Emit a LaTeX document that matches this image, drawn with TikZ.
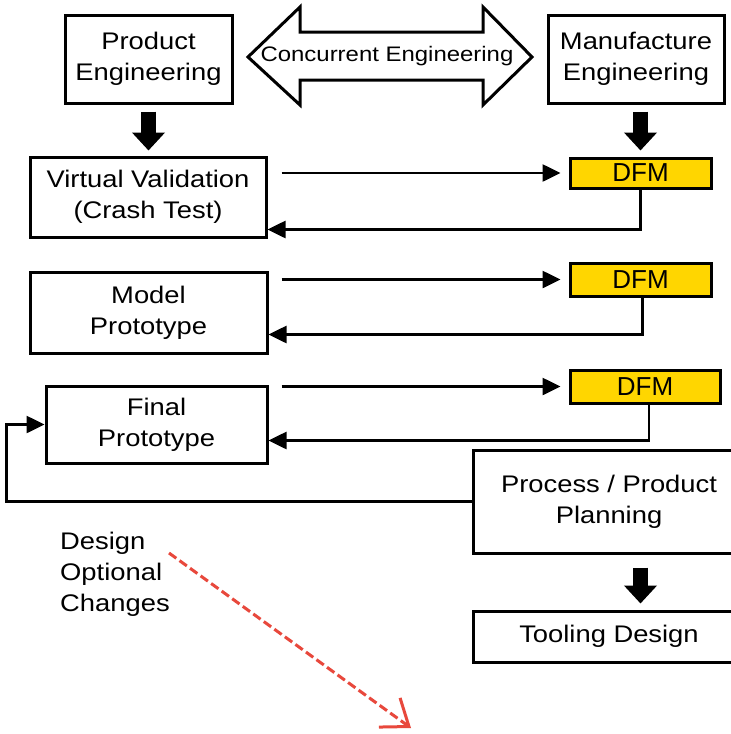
\documentclass[tikz,border=0pt]{standalone}
\usepackage{fontspec}
\setmainfont[FakeStretch=1.14]{Liberation Sans}
\newfontfamily\plainfont{Liberation Sans}
\usetikzlibrary{arrows.meta}
\definecolor{dfmyellow}{RGB}{255,214,0}
\definecolor{dashred}{RGB}{232,72,60}
\begin{document}
\begin{tikzpicture}[x=1pt,y=-1pt,
  box/.style={draw, line width=3pt, inner sep=0pt, align=center,
    font=\fontsize{24}{31}\selectfont},
  dfm/.style={box, fill=dfmyellow, font=\plainfont\fontsize{26}{28}\selectfont},
  arr/.style={line width=2.6pt, -{Triangle[length=18pt,width=17pt]}},
  fat/.style={line width=15pt, -{Triangle[length=18pt,width=32pt]}},
  lbl/.style={inner sep=0pt, align=left, font=\fontsize{24}{31}\selectfont}]
\useasboundingbox (0,0) rectangle (731,734);
\clip (0,0) rectangle (731,734);
\fill[white] (0,0) rectangle (731,734);

% top boxes
\node[box, minimum width=167pt, minimum height=88pt] (pe) at (148.5,59) {Product\\Engineering};
\node[box, minimum width=176pt, minimum height=88pt] (me) at (636,59) {Manufacture\\Engineering};

% concurrent engineering double arrow
\draw[line width=3pt, line join=miter] (248,57) -- (300,7) -- (300,32) -- (483,32) -- (483,7)
  -- (532,57) -- (483,105) -- (483,80) -- (300,80) -- (300,105) -- cycle;
\node[inner sep=0pt, font=\fontsize{21}{26}\selectfont] (ce) at (387,56) {Concurrent Engineering};

% left column
\node[box, minimum width=236pt, minimum height=80pt] (vv) at (148,197) {Virtual Validation\\(Crash Test)};
\node[box, minimum width=237pt, minimum height=81pt] (mp) at (148.5,312.5) {Model\\Prototype};
\node[box, minimum width=221pt, minimum height=77pt] (fp) at (156.5,424.5) {Final\\Prototype};

% DFM boxes
\node[dfm, minimum width=141pt, minimum height=30pt] (d1) at (640.5,173) {DFM};
\node[dfm, minimum width=141pt, minimum height=33pt] (d2) at (640.5,279.5) {DFM};
\node[dfm, minimum width=150pt, minimum height=33pt] (d3) at (645,386.5) {DFM};

% right lower boxes
\node[box, minimum width=272pt, minimum height=103pt] (pp) at (609,501.5) {Process / Product\\Planning};
\node[box, minimum width=272pt, minimum height=51pt] (td) at (609,636.5) {Tooling Design};

% text
\node[lbl, anchor=north west] (doc) at (60,532) {Design\\Optional\\Changes};

% fat arrows
\draw[fat, shorten <=7pt, shorten >=5pt] (pe.south) -- (vv.north -| pe.south);
\draw[fat, shorten <=7pt, shorten >=6pt] (d1.north |- me.south) -- (d1.north);
\draw[fat, shorten <=13pt, shorten >=6pt] (d1.north |- pp.south) -- (d1.north |- td.north);

% forward arrows
\draw[arr, shorten <=14pt, shorten >=8pt] (vv.east |- d1.west) -- (d1.west);
\draw[arr, shorten <=13pt, shorten >=8pt] (mp.east |- d2.west) -- (d2.west);
\draw[arr, shorten <=13pt, shorten >=8pt] (fp.east |- d3.west) -- (d3.west);

% return arrows
\draw[arr] (d1.south) |- ([yshift=9pt]vv.south east);
\draw[arr] ([xshift=2pt]d2.south) |- ([yshift=20pt]mp.south east);
\draw[arr] ([xshift=4pt]d3.south) |- ([yshift=24pt]fp.south east);

% feedback
\draw[arr] (pp.west) -- ++(-465,0) |- (fp.west);

% red dashed arrow
\coordinate (rs) at (169,553);
\coordinate (re) at (411,728);
\draw[dashred, line width=3pt, dash pattern=on 9pt off 4pt,
  -{Straight Barb[length=24pt,width=36pt,line width=3pt]}] (rs) -- (re);
\end{tikzpicture}
\end{document}
